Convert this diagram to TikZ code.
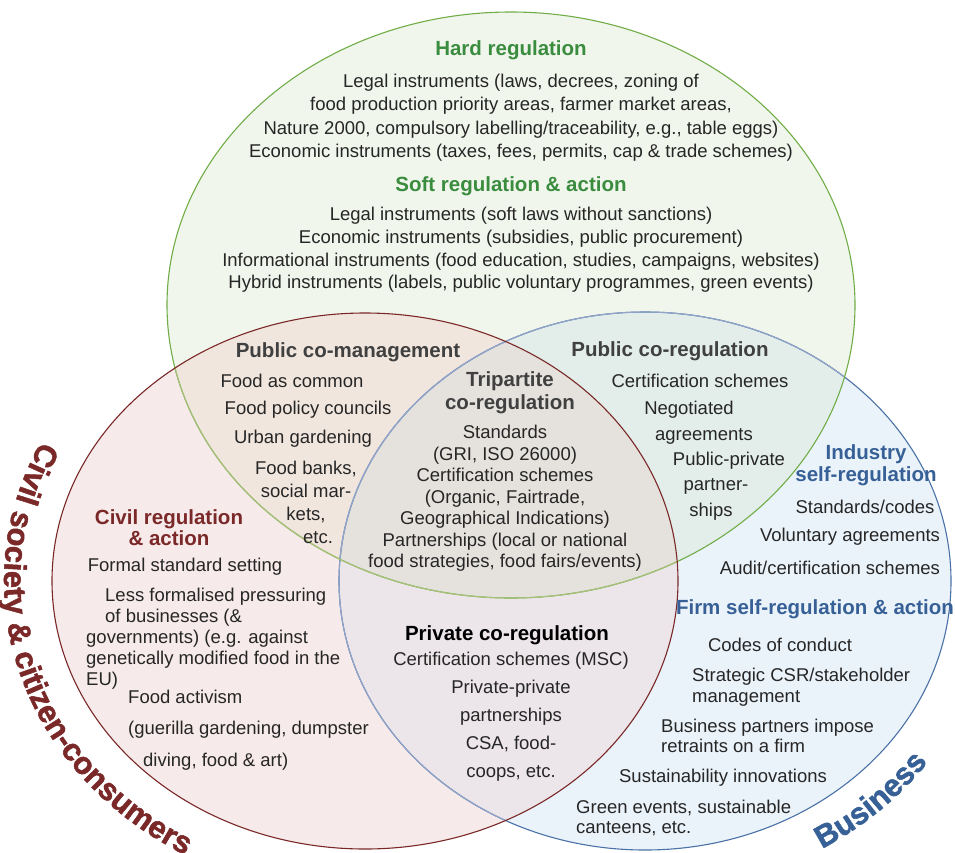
\documentclass[tikz,border=0pt]{standalone}
\usepackage{fontspec}
\setmainfont{Liberation Sans}
\newfontfamily\sectorfont[FakeBold=1.6]{Liberation Sans Bold}
\usetikzlibrary{decorations.text}
\definecolor{govgreen}{RGB}{112,173,71}
\definecolor{govpale}{RGB}{168,192,122}
\definecolor{govhead}{RGB}{58,140,63}
\definecolor{civred}{RGB}{122,40,40}
\definecolor{bizblue}{RGB}{74,114,166}
\definecolor{bizpale}{RGB}{146,164,200}
\definecolor{bizhead}{RGB}{55,96,150}
\definecolor{txtgray}{RGB}{38,38,38}
\definecolor{headgray}{RGB}{64,64,64}
\definecolor{govfill}{RGB}{241,246,236}
\definecolor{civfill}{RGB}{247,234,234}
\definecolor{bizfill}{RGB}{235,243,250}
\definecolor{govciv}{RGB}{240,230,222}
\definecolor{govbiz}{RGB}{227,238,234}
\definecolor{civbiz}{RGB}{236,229,233}
\definecolor{allfill}{RGB}{229,226,222}
\def\govcircle{(511,-305) ellipse [x radius=344pt, y radius=293pt]}
\def\civcircle{(365,-581) ellipse [x radius=313pt, y radius=268pt]}
\def\bizcircle{(645,-581) ellipse [x radius=306pt, y radius=269pt]}

\begin{document}
\begin{tikzpicture}[x=1pt,y=1pt,
    txt/.style={inner sep=0pt, text=txtgray, align=center, font=\fontsize{18.5}{23.5}\selectfont},
    hd/.style={inner sep=0pt, align=center, font=\fontsize{20.5}{22}\selectfont\bfseries}]
  \useasboundingbox (0,0) rectangle (955,-852);
  % fills
  \fill[govfill] \govcircle;
  \fill[civfill] \civcircle;
  \fill[bizfill] \bizcircle;
  \begin{scope}
    \clip \govcircle;
    \fill[govciv] \civcircle;
    \fill[govbiz] \bizcircle;
  \end{scope}
  \begin{scope}
    \clip \civcircle;
    \fill[civbiz] \bizcircle;
  \end{scope}
  \begin{scope}
    \clip \govcircle; \clip \civcircle;
    \fill[allfill] \bizcircle;
  \end{scope}
  % outlines
  \draw[bizblue, line width=1.1pt] \bizcircle;
  \begin{scope}
    \clip \govcircle;
    \draw[bizpale, line width=1.1pt] \bizcircle;
  \end{scope}
  \begin{scope}
    \clip \civcircle;
    \draw[bizpale, line width=1.1pt] \bizcircle;
  \end{scope}
  \draw[govgreen, line width=1.1pt] \govcircle;
  \begin{scope}
    \clip \civcircle;
    \draw[govpale, line width=1.1pt] \govcircle;
  \end{scope}
  \draw[civred, line width=1.1pt] \civcircle;

  % government
  \node[hd, text=govhead] (hardhd) at (511,-50) {Hard regulation};
  \node[txt] (hardtx) at (521,-117.5) {Legal instruments (laws, decrees, zoning of\\
    food production priority areas, farmer market areas,\\
    Nature 2000, compulsory labelling/traceability, e.g., table eggs)\\
    Economic instruments (taxes, fees, permits, cap \& trade schemes)};
  \node[hd, text=govhead] (softhd) at (511,-186) {Soft regulation \& action};
  \node[txt, font=\fontsize{18.5}{22.7}\selectfont] (softtx) at (521,-250) {Legal instruments (soft laws without sanctions)\\
    Economic instruments (subsidies, public procurement)\\
    Informational instruments (food education, studies, campaigns, websites)\\
    Hybrid instruments (labels, public voluntary programmes, green events)};

  % government & civil society
  \node[hd, text=headgray] (comgthd) at (348,-352) {Public co-management};
  \node[txt] (common) at (292,-381) {Food as common};
  \node[txt] (councils) at (308,-410) {Food policy councils};
  \node[txt] (urban) at (303,-439) {Urban gardening};
  \node[txt, font=\fontsize{18.5}{23}\selectfont] (banks) at (306,-502) {Food banks,\\social mar-\\kets,\\\hspace*{24pt}etc.};

  % all three
  \node[hd, text=headgray, font=\fontsize{20.5}{23}\selectfont\bfseries] (triphd) at (510,-392.5) {Tripartite\\co-regulation};
  \node[txt, font=\fontsize{18.5}{21.5}\selectfont] (triptx) at (505,-498.5) {Standards\\(GRI, ISO 26000)\\
    Certification schemes\\(Organic, Fairtrade,\\Geographical Indications)\\
    Partnerships (local or national\\food strategies, food fairs/events)};

  % government & business
  \node[hd, text=headgray] (pcreghd) at (670,-351) {Public co-regulation};
  \node[txt] (pccert) at (700,-381) {Certification schemes};
  \node[txt] (negot) at (689,-410) {Negotiated};
  \node[txt] (agree) at (704,-436) {agreements};
  \node[txt] (ppp) at (729,-461) {Public-private};
  \node[txt] (partner) at (716,-486) {partner-};
  \node[txt] (ships) at (711,-512) {ships};

  % business
  \node[hd, text=bizhead] (indhd) at (866,-465) {Industry\\self-regulation};
  \node[txt] (codes) at (865,-507) {Standards/codes};
  \node[txt] (volunt) at (850,-537) {Voluntary agreements};
  \node[txt] (audit) at (830,-568) {Audit/certification schemes};
  \node[hd, text=bizhead] (firmhd) at (815,-609) {Firm self-regulation \& action};
  \node[txt] (conduct) at (780,-645) {Codes of conduct};
  \node[txt, align=left, anchor=west, font=\fontsize{18.5}{20.5}\selectfont] (csr) at (692,-687) {Strategic CSR/stakeholder\\management};
  \node[txt, align=left, anchor=west, font=\fontsize{18.5}{20.5}\selectfont] (partners) at (661,-736) {Business partners impose\\retraints on a firm};
  \node[txt] (innov) at (723,-778) {Sustainability innovations};
  \node[txt, align=left, anchor=west, font=\fontsize{18.5}{20.5}\selectfont] (green) at (576,-818) {Green events, sustainable\\canteens, etc.};

  % civil society & business
  \node[hd, text=black] (privhd) at (507,-635) {Private co-regulation};
  \node[txt] (msc) at (511,-661) {Certification schemes (MSC)};
  \node[txt, font=\fontsize{18.5}{28}\selectfont] (pptx) at (511,-731) {Private-private\\partnerships\\CSA, food-\\coops, etc.};

  % civil society
  \node[hd, text=civred, font=\fontsize{20.5}{21}\selectfont\bfseries] (civhd) at (169,-527.5) {Civil regulation\\\& action};
  \node[txt] (formal) at (185,-567) {Formal standard setting};
  \node[txt, align=left, anchor=west, font=\fontsize{18.5}{21}\selectfont] (pressure) at (86,-639) {\hspace*{19pt}Less formalised pressuring\\
    \hspace*{19pt}of businesses (\&\\governments) (e.g. against\\genetically modified food in the\\EU)};
  \node[txt, anchor=west] (activism) at (128,-697) {Food activism};
  \node[txt, anchor=west] (guerilla) at (128,-730) {(guerilla gardening, dumpster};
  \node[txt, anchor=west] (diving) at (143,-762) {diving, food \& art)};

  % sector names
  \coordinate (civc) at (365,-581);
  \coordinate (bizc) at (645,-581);
  \begin{scope}
    \sectorfont\fontsize{31}{32}\selectfont
    \path[decorate, decoration={text along path, text align=center, text color=civred,
        text={Civil society {\&} citizen-consumers}}]
      ([shift={(140.5:361pt and 316pt)}]civc) arc[start angle=140.5, end angle=252.5, x radius=361pt, y radius=316pt];
    \path[decorate, decoration={text along path, text align=center, text color=bizhead,
        text={Business}}]
      ([shift={(-74:348pt and 311pt)}]bizc) arc[start angle=-74, end angle=-20, x radius=348pt, y radius=311pt];
  \end{scope}
\end{tikzpicture}
\end{document}
